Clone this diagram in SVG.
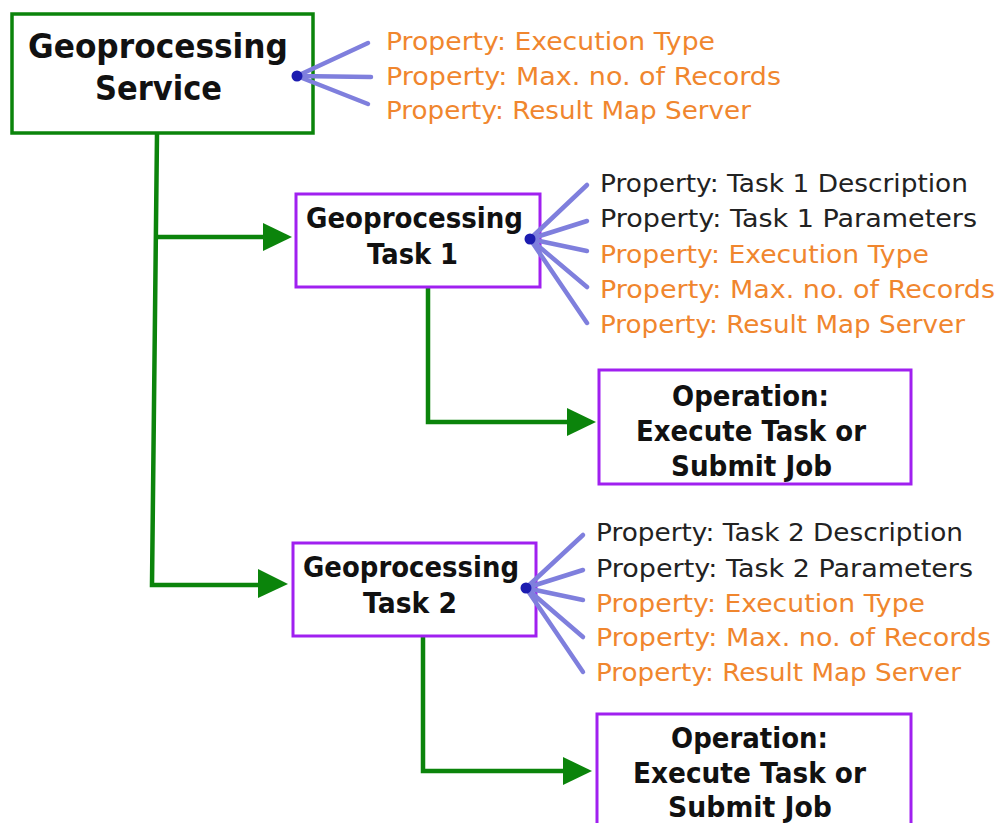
<svg xmlns="http://www.w3.org/2000/svg" width="1000" height="823" viewBox="0 0 1000 823">
<style>
.bg{fill:#ffffff}
.svc{fill:#ffffff;stroke:#0b840b;stroke-width:3.5}
.task{fill:#ffffff;stroke:#a020f0;stroke-width:3}
.title{font-family:"DejaVu Sans",Verdana,sans-serif;font-weight:bold;fill:#111111;text-anchor:start}
.prop{font-family:"DejaVu Sans",Verdana,sans-serif;font-size:25px}
.o{fill:#f0862e}
.k{fill:#222222}
.conn{fill:none;stroke:#0b840b;stroke-width:4.5}
.spoke{stroke:#7f7fdd;stroke-width:4.5;stroke-linecap:round}
.dot{fill:#1c1cb0}
.head{fill:#0b840b}
</style>
<rect class="bg" x="0" y="0" width="1000" height="823"/>

<g id="connectors">
  <polyline class="conn" points="157,134 152,585 262,585"/>
  <polyline class="conn" points="157,237 265,237"/>
  <polygon class="head" points="263,223 292,237 263,251"/>
  <polygon class="head" points="258,569 288,584 258,598"/>
  <polyline class="conn" points="428,287 428,422 568,422"/>
  <polygon class="head" points="567,408 596,422 567,436"/>
  <polyline class="conn" points="423,636 423,771 564,771"/>
  <polygon class="head" points="563,757 592,771 563,785"/>
</g>

<g id="service">
  <rect class="svc" x="12" y="14" width="301" height="119"/>
  <text class="title" x="28" y="58" font-size="33" textLength="260" lengthAdjust="spacingAndGlyphs">Geoprocessing</text>
  <text class="title" x="95" y="100" font-size="33" textLength="127" lengthAdjust="spacingAndGlyphs">Service</text>
</g>
<g id="service-props">
  <line class="spoke" x1="297" y1="76" x2="368" y2="43"/>
  <line class="spoke" x1="297" y1="76" x2="371" y2="77"/>
  <line class="spoke" x1="297" y1="76" x2="368" y2="104"/>
  <circle class="dot" cx="297" cy="76" r="5.5"/>
  <text class="prop o" x="386" y="50" textLength="329" lengthAdjust="spacingAndGlyphs">Property: Execution Type</text>
  <text class="prop o" x="386" y="85" textLength="395" lengthAdjust="spacingAndGlyphs">Property: Max. no. of Records</text>
  <text class="prop o" x="386" y="119" textLength="365" lengthAdjust="spacingAndGlyphs">Property: Result Map Server</text>
</g>

<g id="task1">
  <rect class="task" x="296" y="194" width="244" height="93"/>
  <text class="title" x="306" y="228" font-size="29" textLength="217" lengthAdjust="spacingAndGlyphs">Geoprocessing</text>
  <text class="title" x="367" y="264" font-size="29" textLength="91" lengthAdjust="spacingAndGlyphs">Task 1</text>
</g>
<g id="task1-props">
  <line class="spoke" x1="530" y1="239" x2="587" y2="185"/>
  <line class="spoke" x1="530" y1="239" x2="587" y2="221"/>
  <line class="spoke" x1="530" y1="239" x2="587" y2="251"/>
  <line class="spoke" x1="530" y1="239" x2="587" y2="287"/>
  <line class="spoke" x1="530" y1="239" x2="587" y2="323"/>
  <circle class="dot" cx="530" cy="239" r="5.5"/>
  <text class="prop k" x="600" y="192" textLength="368" lengthAdjust="spacingAndGlyphs">Property: Task 1 Description</text>
  <text class="prop k" x="600" y="227" textLength="377" lengthAdjust="spacingAndGlyphs">Property: Task 1 Parameters</text>
  <text class="prop o" x="600" y="263" textLength="329" lengthAdjust="spacingAndGlyphs">Property: Execution Type</text>
  <text class="prop o" x="600" y="298" textLength="395" lengthAdjust="spacingAndGlyphs">Property: Max. no. of Records</text>
  <text class="prop o" x="600" y="333" textLength="365" lengthAdjust="spacingAndGlyphs">Property: Result Map Server</text>
</g>

<g id="operation1">
  <rect class="task" x="599" y="370" width="312" height="114"/>
  <text class="title" x="672" y="406" font-size="29" textLength="157" lengthAdjust="spacingAndGlyphs">Operation:</text>
  <text class="title" x="636" y="441" font-size="29" textLength="230" lengthAdjust="spacingAndGlyphs">Execute Task or</text>
  <text class="title" x="671" y="476" font-size="29" textLength="161" lengthAdjust="spacingAndGlyphs">Submit Job</text>
</g>

<g id="task2">
  <rect class="task" x="293" y="543" width="243" height="93"/>
  <text class="title" x="303" y="577" font-size="29" textLength="216" lengthAdjust="spacingAndGlyphs">Geoprocessing</text>
  <text class="title" x="363" y="613" font-size="29" textLength="94" lengthAdjust="spacingAndGlyphs">Task 2</text>
</g>
<g id="task2-props">
  <line class="spoke" x1="526" y1="588" x2="583" y2="535"/>
  <line class="spoke" x1="526" y1="588" x2="583" y2="570"/>
  <line class="spoke" x1="526" y1="588" x2="583" y2="600"/>
  <line class="spoke" x1="526" y1="588" x2="583" y2="637"/>
  <line class="spoke" x1="526" y1="588" x2="583" y2="672"/>
  <circle class="dot" cx="526" cy="588" r="5.5"/>
  <text class="prop k" x="596" y="541" textLength="367" lengthAdjust="spacingAndGlyphs">Property: Task 2 Description</text>
  <text class="prop k" x="596" y="577" textLength="377" lengthAdjust="spacingAndGlyphs">Property: Task 2 Parameters</text>
  <text class="prop o" x="596" y="612" textLength="329" lengthAdjust="spacingAndGlyphs">Property: Execution Type</text>
  <text class="prop o" x="596" y="646" textLength="395" lengthAdjust="spacingAndGlyphs">Property: Max. no. of Records</text>
  <text class="prop o" x="596" y="681" textLength="365" lengthAdjust="spacingAndGlyphs">Property: Result Map Server</text>
</g>

<g id="operation2">
  <rect class="task" x="597" y="714" width="314" height="130"/>
  <text class="title" x="671" y="748" font-size="29" textLength="157" lengthAdjust="spacingAndGlyphs">Operation:</text>
  <text class="title" x="633" y="783" font-size="29" textLength="233" lengthAdjust="spacingAndGlyphs">Execute Task or</text>
  <text class="title" x="668" y="817" font-size="29" textLength="164" lengthAdjust="spacingAndGlyphs">Submit Job</text>
</g>
</svg>
